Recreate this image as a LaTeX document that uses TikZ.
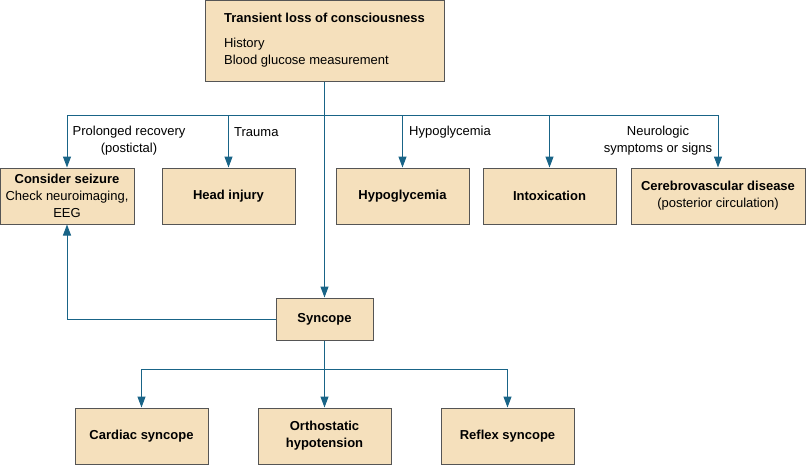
\documentclass[tikz,border=0pt]{standalone}
\usepackage{fontspec}
\setmainfont{Liberation Sans}
\usetikzlibrary{arrows.meta}
\definecolor{boxfill}{RGB}{245,224,188}
\definecolor{boxline}{RGB}{85,85,85}
\definecolor{flowline}{RGB}{25,100,135}

\begin{document}
\begin{tikzpicture}[
                x=1pt, y=-1pt,
                every node/.style={font=\fontsize{13}{17}\selectfont},
                box/.style={draw=boxline, fill=boxfill, line width=1pt, align=center, inner sep=0pt, minimum height=56pt},
                lbl/.style={inner sep=0pt, align=center},
                flow/.style={draw=flowline, line width=1pt, -{Triangle[length=11pt,width=8pt]}},
            ]
            \useasboundingbox (0,0) rectangle (806,464);
            \node[box, align=left, minimum width=239pt, minimum height=81pt] (tloc) at (324.5,40.5)
                {\textbf{Transient loss of consciousness}\\[8pt]History\\Blood glucose measurement};
            \node[box, minimum width=134pt] (seizure) at (67,196) {\textbf{Consider seizure}\\Check neuroimaging,\\EEG};
            \node[box, minimum width=133pt] (head) at (228.5,196) {\textbf{Head injury}};
            \node[box, minimum width=133pt] (hypo) at (402.5,196) {\textbf{Hypoglycemia}};
            \node[box, minimum width=133pt] (intox) at (549.5,196) {\textbf{Intoxication}};
            \node[box, minimum width=174pt] (cvd) at (718,196) {\textbf{Cerebrovascular disease}\\(posterior circulation)};
            \node[box, minimum width=97pt, minimum height=42pt] (syncope) at (324.5,319) {\textbf{Syncope}};
            \node[box, minimum width=133pt] (cardiac) at (141.5,436) {\textbf{Cardiac syncope}};
            \node[box, minimum width=133pt] (ortho) at (324.5,436) {\textbf{Orthostatic}\\\textbf{hypotension}};
            \node[box, minimum width=133pt] (reflex) at (507.5,436) {\textbf{Reflex syncope}};
            \coordinate (bus) at (324.5,115);
            \coordinate (split) at (324.5,369);
            \draw[flow] (tloc) -- (syncope);
            \draw[flow] (bus) -| (seizure.north);
            \draw[flow] (bus) -| (head.north);
            \draw[flow] (bus) -| (hypo.north);
            \draw[flow] (bus) -| (intox.north);
            \draw[flow] (bus) -| (cvd.north);
            \draw[flow] (syncope.west) -| (seizure.south);
            \draw[flow] (syncope) -- (ortho);
            \draw[flow] (split) -| (cardiac.north);
            \draw[flow] (split) -| (reflex.north);
            \node[lbl] (postictal) at (129,140.5) {Prolonged recovery\\(postictal)};
            \node[lbl, anchor=west] (trauma) at (234,132) {Trauma};
            \node[lbl, anchor=west] (hypolbl) at (409,132) {Hypoglycemia};
            \node[lbl] (neuro) at (658,140.5) {Neurologic\\symptoms or signs};
            \end{tikzpicture}
\end{document}
